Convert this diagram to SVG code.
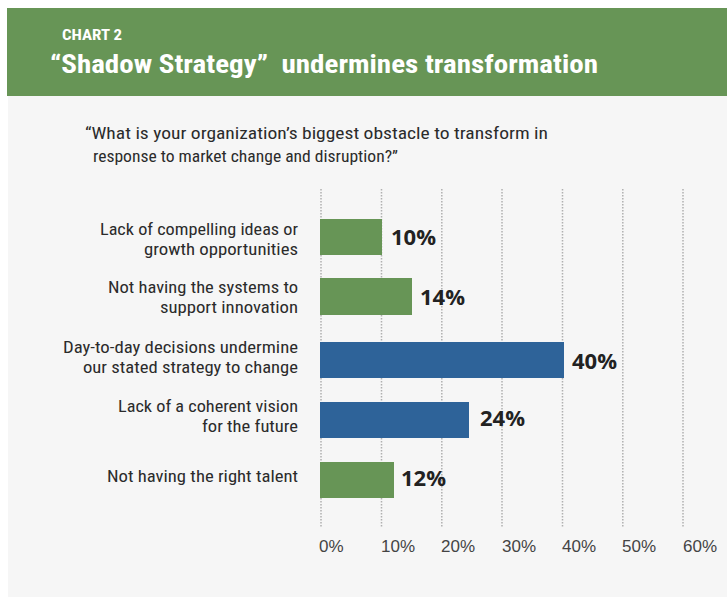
<svg xmlns="http://www.w3.org/2000/svg" width="727" height="597" viewBox="0 0 727 597">
<style>
.cat{font-family:"Liberation Sans Narrow","Roboto Condensed","Liberation Sans",sans-serif;font-size:16px;fill:#2b2b2b;text-anchor:end}
.q{font-family:"Liberation Sans Narrow","Roboto Condensed","Liberation Sans",sans-serif;font-size:17px;fill:#2b2b2b}
.val{font-family:"Open Sans","Liberation Sans",sans-serif;font-size:22px;font-weight:bold;fill:#222}
.tick{font-family:"Liberation Sans Narrow","Liberation Sans",sans-serif;font-size:17px;fill:#444}
.grid{stroke:#b0b0b0;stroke-width:1.5;stroke-dasharray:1.5 1.5}
.g{fill:#679556}
.b{fill:#2e6399}
</style>
<rect x="0" y="0" width="727" height="597" fill="#ffffff"/>
<rect x="8" y="96" width="719" height="501" fill="#f6f6f6"/>
<g id="header">
<rect x="7" y="8" width="720" height="88" fill="#679556"/>
<text x="62" y="40" font-family="Liberation Sans Narrow,Roboto Condensed,Liberation Sans,sans-serif" font-size="15" font-weight="bold" fill="#fff" textLength="60" lengthAdjust="spacingAndGlyphs">CHART 2</text>
<text x="50" y="73" font-family="Liberation Sans Narrow,Roboto Condensed,Liberation Sans,sans-serif" font-size="25" font-weight="bold" fill="#fff" textLength="548" lengthAdjust="spacingAndGlyphs" xml:space="preserve">“Shadow Strategy”  undermines transformation</text>
</g>
<g id="question">
<text class="q" x="85" y="139" textLength="463" lengthAdjust="spacingAndGlyphs">“What is your organization’s biggest obstacle to transform in</text>
<text class="q" x="93" y="162" textLength="305" lengthAdjust="spacingAndGlyphs">response to market change and disruption?”</text>
</g>
<g id="grid">
<line class="grid" x1="321" y1="189" x2="321" y2="528"/>
<line class="grid" x1="381.5" y1="189" x2="381.5" y2="528"/>
<line class="grid" x1="441.8" y1="189" x2="441.8" y2="528"/>
<line class="grid" x1="502" y1="189" x2="502" y2="528"/>
<line class="grid" x1="562.5" y1="189" x2="562.5" y2="528"/>
<line class="grid" x1="622.8" y1="189" x2="622.8" y2="528"/>
<line class="grid" x1="683" y1="189" x2="683" y2="528"/>
</g>
<g id="bar1">
<rect class="g" x="320" y="219" width="62" height="36"/>
<text class="cat" x="298" y="235" textLength="198" lengthAdjust="spacingAndGlyphs">Lack of compelling ideas or</text>
<text class="cat" x="298" y="255" textLength="154" lengthAdjust="spacingAndGlyphs">growth opportunities</text>
<text class="val" x="391" y="245">10%</text>
</g>
<g id="bar2">
<rect class="g" x="320" y="278" width="92" height="37"/>
<text class="cat" x="298" y="293" textLength="190" lengthAdjust="spacingAndGlyphs">Not having the systems to</text>
<text class="cat" x="298" y="313" textLength="138" lengthAdjust="spacingAndGlyphs">support innovation</text>
<text class="val" x="420" y="305">14%</text>
</g>
<g id="bar3">
<rect class="b" x="320" y="342" width="244" height="36"/>
<text class="cat" x="298" y="353" textLength="235" lengthAdjust="spacingAndGlyphs">Day-to-day decisions undermine</text>
<text class="cat" x="298" y="373" textLength="215" lengthAdjust="spacingAndGlyphs">our stated strategy to change</text>
<text class="val" x="572" y="369">40%</text>
</g>
<g id="bar4">
<rect class="b" x="320" y="402" width="149" height="36"/>
<text class="cat" x="298" y="412" textLength="180" lengthAdjust="spacingAndGlyphs">Lack of a coherent vision</text>
<text class="cat" x="298" y="432" textLength="96" lengthAdjust="spacingAndGlyphs">for the future</text>
<text class="val" x="480" y="426">24%</text>
</g>
<g id="bar5">
<rect class="g" x="320" y="462" width="74" height="36"/>
<text class="cat" x="298" y="482" textLength="191" lengthAdjust="spacingAndGlyphs">Not having the right talent</text>
<text class="val" x="401" y="486">12%</text>
</g>
<g id="axis">
<text class="tick" x="319" y="552">0%</text>
<text class="tick" x="381" y="552">10%</text>
<text class="tick" x="441" y="552">20%</text>
<text class="tick" x="502" y="552">30%</text>
<text class="tick" x="562" y="552">40%</text>
<text class="tick" x="622" y="552">50%</text>
<text class="tick" x="683" y="552">60%</text>
</g>
</svg>
